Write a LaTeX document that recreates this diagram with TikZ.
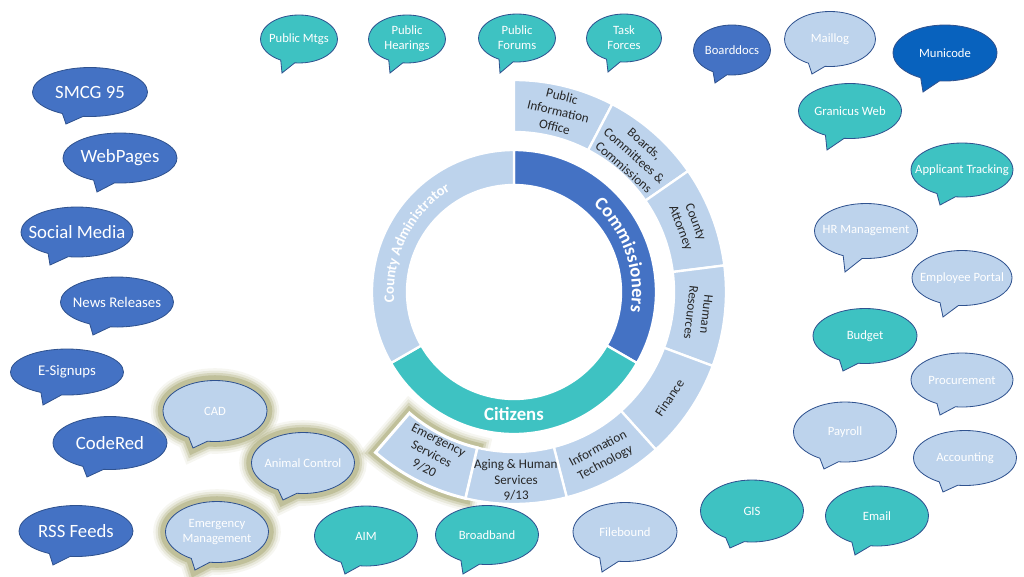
\documentclass[tikz,border=0pt]{standalone}
\usepackage{fontspec}
\setmainfont{Carlito}
\usetikzlibrary{shapes.callouts,decorations.text}
\definecolor{dkblue}{RGB}{68,114,196}
\definecolor{mublue}{RGB}{8,98,190}
\definecolor{tealc}{RGB}{62,194,194}
\definecolor{ltblue}{RGB}{189,211,236}
\definecolor{edgec}{RGB}{47,82,143}
\definecolor{glowc}{RGB}{170,170,120}
\tikzset{
  bubble/.style={ellipse callout, draw=edgec, line width=0.7pt, inner sep=0pt, outer sep=0pt, callout pointer arc=22},
  bsize/.style 2 args={minimum width=#1*0.03cm, minimum height=#2*0.03cm},
  dk/.style={bubble, fill=dkblue},    % dark blue
  mu/.style={bubble, fill=mublue},    % darker blue
  tl/.style={bubble, fill=tealc},     % teal
  lt/.style={bubble, fill=ltblue},    % light blue
  glow/.style={preaction={draw=glowc, draw opacity=0.1, line width=21pt},
               preaction={draw=glowc, draw opacity=0.18, line width=17pt},
               preaction={draw=glowc, draw opacity=0.3, line width=13pt},
               preaction={draw=glowc, draw opacity=0.5, line width=9pt}},
  bigtxt/.style={text=white, font=\fontsize{16}{18}\selectfont},
  medtxt/.style={text=white, font=\fontsize{12.6}{14}\selectfont},
  smtxt/.style={text=white, align=center, font=\fontsize{10.8}{12.8}\selectfont},
  seg/.style={fill=ltblue, draw=white, line width=2pt},
  segtxt/.style={text=black!85, align=center, font=\fontsize{11.2}{13.4}\selectfont}
}

\begin{document}
\begin{tikzpicture}[x=0.03cm, y=-0.03cm]
  \useasboundingbox (0,0) rectangle (1024,576);

  % ring
  \begin{scope}[shift={(514,292)}, y=0.03cm]
    % outer segments
    \filldraw[seg, line width=2.5pt, glow] (-103.2:212) arc[start angle=-103.2, end angle=-130.8, radius=212] -- (-130.8:160) arc[start angle=-130.8, end angle=-103.2, radius=160] -- cycle;
    \filldraw[seg] (90:212) arc[start angle=90, end angle=62.4, radius=212] -- (62.4:160) arc[start angle=62.4, end angle=90, radius=160] -- cycle;
    \filldraw[seg] (62.4:212) arc[start angle=62.4, end angle=34.8, radius=212] -- (34.8:160) arc[start angle=34.8, end angle=62.4, radius=160] -- cycle;
    \filldraw[seg] (34.8:212) arc[start angle=34.8, end angle=7.2, radius=212] -- (7.2:160) arc[start angle=7.2, end angle=34.8, radius=160] -- cycle;
    \filldraw[seg] (7.2:212) arc[start angle=7.2, end angle=-20.4, radius=212] -- (-20.4:160) arc[start angle=-20.4, end angle=7.2, radius=160] -- cycle;
    \filldraw[seg] (-20.4:212) arc[start angle=-20.4, end angle=-48, radius=212] -- (-48:160) arc[start angle=-48, end angle=-20.4, radius=160] -- cycle;
    \filldraw[seg] (-48:212) arc[start angle=-48, end angle=-75.6, radius=212] -- (-75.6:160) arc[start angle=-75.6, end angle=-48, radius=160] -- cycle;
    \filldraw[seg] (-75.6:212) arc[start angle=-75.6, end angle=-103.2, radius=212] -- (-103.2:160) arc[start angle=-103.2, end angle=-75.6, radius=160] -- cycle;

    \node[segtxt, rotate=-13.8] (pio) at (76.2:186) {Public\\Information\\Office};
    \node[segtxt, rotate=-41.4] (boards) at (48.6:182) {Boards,\\Committees \&\\Commissions};
    \node[segtxt, rotate=-69] (atty) at (21:186) {County\\Attorney};
    \node[segtxt, rotate=-96.6] (hr) at (-6.6:186) {Human\\Resources};
    \node[segtxt, rotate=55.8] (fin) at (-34.2:188) {Finance};
    \node[segtxt, rotate=28.2] (it) at (-61.8:186) {Information\\Technology};
    \node[segtxt, rotate=0.6] (aging) at (-89.4:188) {Aging \& Human\\Services\\9/13};
    \node[segtxt, rotate=-27] (emerg) at (-117:182) {Emergency\\Services\\9/20};

    % inner ring
    \filldraw[fill=dkblue, draw=white, line width=2pt] (90:142) arc[start angle=90, end angle=-30, radius=142] -- (-30:107) arc[start angle=-30, end angle=90, radius=107] -- cycle;
    \filldraw[fill=tealc, draw=white, line width=2pt] (-30:142) arc[start angle=-30, end angle=-150, radius=142] -- (-150:107) arc[start angle=-150, end angle=-30, radius=107] -- cycle;
    \filldraw[fill=ltblue, draw=white, line width=2pt] (-150:142) arc[start angle=-150, end angle=-270, radius=142] -- (90:107) arc[start angle=90, end angle=210, radius=107] -- cycle;

    \path[decorate, decoration={text along path, text align=center,
      text={|\color{white}\bfseries\fontsize{16}{16}\selectfont|Commissioners}}]
      (60:118) arc[start angle=60, end angle=-22, radius=118];
    \path[decorate, decoration={text along path, text align=center,
      text={|\color{white}\bfseries\fontsize{12.5}{12.5}\selectfont|County Administrator}}]
      (190:120) arc[start angle=190, end angle=117, radius=120];
    \node[text=white, font=\bfseries\fontsize{16}{18}\selectfont] (cit) at (0,-122) {Citizens};
  \end{scope}

  % left column
  \node[dk, bsize={115}{49}, callout absolute pointer={(66,124)}, label={[bigtxt]center:SMCG 95}] (smcg) at (90,92) {};
  \node[dk, bsize={114}{50}, callout absolute pointer={(97,192)}, label={[bigtxt]center:WebPages}] (web) at (120,158) {};
  \node[dk, bsize={112}{50}, callout absolute pointer={(50,265)}, label={[bigtxt]center:Social Media}] (social) at (77,232) {};
  \node[dk, bsize={113}{50}, callout absolute pointer={(93,335)}, label={[medtxt]center:News Releases}] (news) at (117,302) {};
  \node[dk, bsize={113}{46}, callout absolute pointer={(43,405)}, label={[medtxt]center:E-Signups}] (esign) at (67,372) {};
  \node[dk, bsize={114}{53}, callout absolute pointer={(87,477)}, label={[bigtxt]center:CodeRed}] (codered) at (110,443) {};
  \node[dk, bsize={114}{51}, callout absolute pointer={(53,565)}, label={[bigtxt]center:RSS Feeds}] (rss) at (76,531) {};

  % emergency bubbles
  \node[lt, glow, bsize={104}{61}, callout absolute pointer={(193,448)}, label={[smtxt]center:CAD}] (cad) at (215,411) {};
  \node[lt, glow, bsize={103}{61}, callout absolute pointer={(283,500)}, label={[smtxt]center:Animal Control}] (animal) at (303,463) {};
  \node[lt, glow, bsize={103}{61}, callout absolute pointer={(195,570)}, label={[smtxt]center:{Emergency\\Management}}] (emgmt) at (217,532) {};

  % top row
  \node[tl, bsize={77}{48}, callout absolute pointer={(282,73)}, label={[smtxt]center:Public Mtgs}] (mtgs) at (299,39) {};
  \node[tl, bsize={77}{48}, callout absolute pointer={(390,73)}, label={[smtxt]center:{Public\\Hearings}}] (hear) at (407,39) {};
  \node[tl, bsize={77}{48}, callout absolute pointer={(500,73)}, label={[smtxt]center:{Public\\Forums}}] (forum) at (517,38) {};
  \node[tl, bsize={75}{48}, callout absolute pointer={(608,72)}, label={[smtxt]center:{Task\\Forces}}] (task) at (624,38) {};

  % right side
  \node[dk, bsize={77}{50}, callout absolute pointer={(715,83)}, label={[smtxt]center:Boarddocs}] (bdocs) at (732,50) {};
  \node[lt, bsize={91}{55}, callout absolute pointer={(812,74)}, label={[smtxt]center:Maillog}] (maillog) at (830,39) {};
  \node[mu, bsize={104}{56}, callout absolute pointer={(923,92)}, label={[smtxt]center:Municode}] (municode) at (945,53) {};
  \node[tl, bsize={103}{55}, callout absolute pointer={(827,150)}, label={[smtxt]center:Granicus Web}] (granicus) at (850,111) {};
  \node[tl, bsize={102}{54}, callout absolute pointer={(940,205)}, label={[smtxt]center:Applicant Tracking}] (applicant) at (962,170) {};
  \node[lt, bsize={103}{55}, callout absolute pointer={(845,272)}, label={[smtxt]center:HR Management}] (hrm) at (866,231) {};
  \node[lt, bsize={100}{55}, callout absolute pointer={(943,317)}, label={[smtxt]center:Employee Portal}] (portal) at (962,278) {};
  \node[tl, bsize={104}{55}, callout absolute pointer={(843,371)}, label={[smtxt]center:Budget}] (budget) at (865,336) {};
  \node[lt, bsize={102}{54}, callout absolute pointer={(940,415)}, label={[smtxt]center:Procurement}] (procure) at (962,380) {};
  \node[lt, bsize={103}{60}, callout absolute pointer={(824,469)}, label={[smtxt]center:Payroll}] (payroll) at (845,432) {};
  \node[lt, bsize={103}{55}, callout absolute pointer={(943,492)}, label={[smtxt]center:Accounting}] (acct) at (965,458) {};
  \node[tl, bsize={103}{62}, callout absolute pointer={(730,548)}, label={[smtxt]center:GIS}] (gis) at (752,511) {};
  \node[tl, bsize={103}{60}, callout absolute pointer={(855,555)}, label={[smtxt]center:Email}] (email) at (877,516) {};

  % bottom row
  \node[tl, bsize={103}{60}, callout absolute pointer={(345,574)}, label={[smtxt]center:AIM}] (aim) at (366,536) {};
  \node[tl, bsize={103}{59}, callout absolute pointer={(463,574)}, label={[smtxt]center:Broadband}] (broadband) at (487,535) {};
  \node[lt, bsize={104}{59}, callout absolute pointer={(602,572)}, label={[smtxt]center:Filebound}] (filebound) at (625,532) {};

\end{tikzpicture}
\end{document}
